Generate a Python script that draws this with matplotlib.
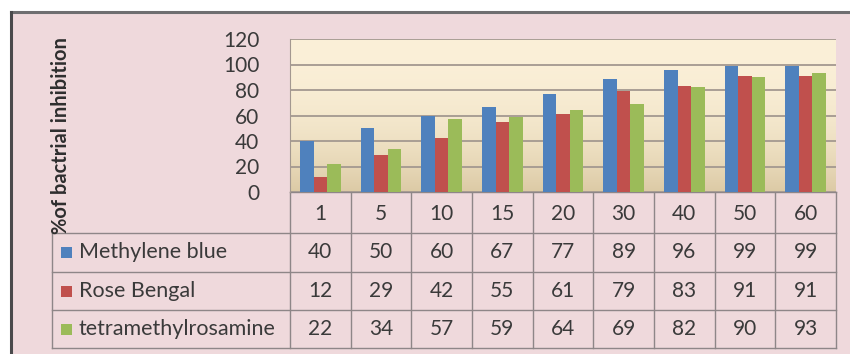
import numpy as np
import matplotlib.pyplot as plt

# Données
concentrations = ['1', '5', '10', '15', '20', '30', '40', '50', '60']
methylene_blue = [40, 50, 60, 67, 77, 89, 96, 99, 99]
rose_bengal = [12, 29, 42, 55, 61, 79, 83, 91, 91]
tetramethylrosamine = [22, 34, 57, 59, 64, 69, 82, 90, 93]
series_names = ['Methylene blue', 'Rose Bengal', 'tetramethylrosamine']
series_colors = ['#4F81BD', '#C0504D', '#9BBB59']
y_ticks = [0, 20, 40, 60, 80, 100, 120]

plt.rcParams['font.family'] = ['Lato', 'DejaVu Sans']

W, H = 850, 354
fig = plt.figure(figsize=(W / 100, H / 100), dpi=100)
fig.patch.set_facecolor('white')

# fond rose et cadre
bg = fig.add_axes([0, 0, 1, 1])
bg.set_xlim(0, W)
bg.set_ylim(H, 0)
bg.axis('off')
bg.add_patch(plt.Rectangle((11, 12), W - 11, H - 12, facecolor='#EFD9DC', edgecolor='none'))
bg.plot([11, W], [12, 12], color='#6E6E70', lw=2.2)
bg.plot([11, 11], [12, H], color='#4A4A4C', lw=2.2)

# zone du graphique avec dégradé
x0, x1, ytop, ybot = 290, 836, 39, 192
ax = fig.add_axes([x0 / W, 1 - ybot / H, (x1 - x0) / W, (ybot - ytop) / H])
ax.set_facecolor('none')
grad = np.linspace(0, 1, 256).reshape(-1, 1)
top_c = np.array([251, 240, 216]) / 255
bot_c = np.array([220, 202, 165]) / 255
t = grad ** 2.2
img = (1 - t) * top_c + t * bot_c
ax.imshow(img.reshape(256, 1, 3), extent=[0, 1, 0, 1], aspect='auto',
          transform=ax.transAxes, zorder=0)

n = len(concentrations)
x = np.arange(n)
bw = 0.225
data = [methylene_blue, rose_bengal, tetramethylrosamine]
for i, (vals, col) in enumerate(zip(data, series_colors)):
    ax.bar(x + (i - 1) * bw, vals, bw, color=col, zorder=3)

ax.set_xlim(-0.5, n - 0.5)
ax.set_ylim(0, 120)
ax.set_yticks(y_ticks)
ax.yaxis.grid(True, color='#A39890', lw=1.3, zorder=1)
ax.set_axisbelow(False)
ax.tick_params(axis='y', length=0, pad=22, labelsize=15, labelcolor='#3A3A3A')
ax.set_xticks([])
for s in ['top', 'right', 'bottom']:
    ax.spines[s].set_visible(False)
ax.spines['left'].set_color('#A39890')

# table de données
tbl_left, col_w = 52, (x1 - x0) / n
rows_y = [192, 233, 272, 310, 348]
line_c = '#8E8688'
for yy in rows_y[1:]:
    bg.plot([tbl_left, x1], [yy, yy], color=line_c, lw=1)
bg.plot([x0, x1], [rows_y[0], rows_y[0]], color=line_c, lw=1)
bg.plot([tbl_left, tbl_left], [rows_y[1], rows_y[-1]], color=line_c, lw=1)
for j in range(n + 1):
    xx = x0 + j * col_w
    bg.plot([xx, xx], [rows_y[0], rows_y[-1]], color=line_c, lw=1)

txt_c = '#3A3A3A'
for j, lab in enumerate(concentrations):
    bg.text(x0 + (j + 0.5) * col_w, (rows_y[0] + rows_y[1]) / 2 + 1, lab,
            ha='center', va='center', fontsize=15, color=txt_c)
for r, (name, vals, col) in enumerate(zip(series_names, data, series_colors)):
    yc = (rows_y[r + 1] + rows_y[r + 2]) / 2
    bg.add_patch(plt.Rectangle((61, yc - 5.5), 11, 11, facecolor=col, edgecolor='none'))
    bg.text(79, yc, name, ha='left', va='center', fontsize=15.5, color=txt_c)
    for j, v in enumerate(vals):
        bg.text(x0 + (j + 0.5) * col_w, yc, str(v), ha='center', va='center',
                fontsize=15, color=txt_c)

# titre de l'axe
bg.text(61, 136, '%of bactrial inhibition', rotation=90, ha='center', va='center',
        fontsize=14.5, fontweight='bold', color='#2E2E2E')

fig.savefig('out.png', dpi=100, facecolor=fig.get_facecolor())
